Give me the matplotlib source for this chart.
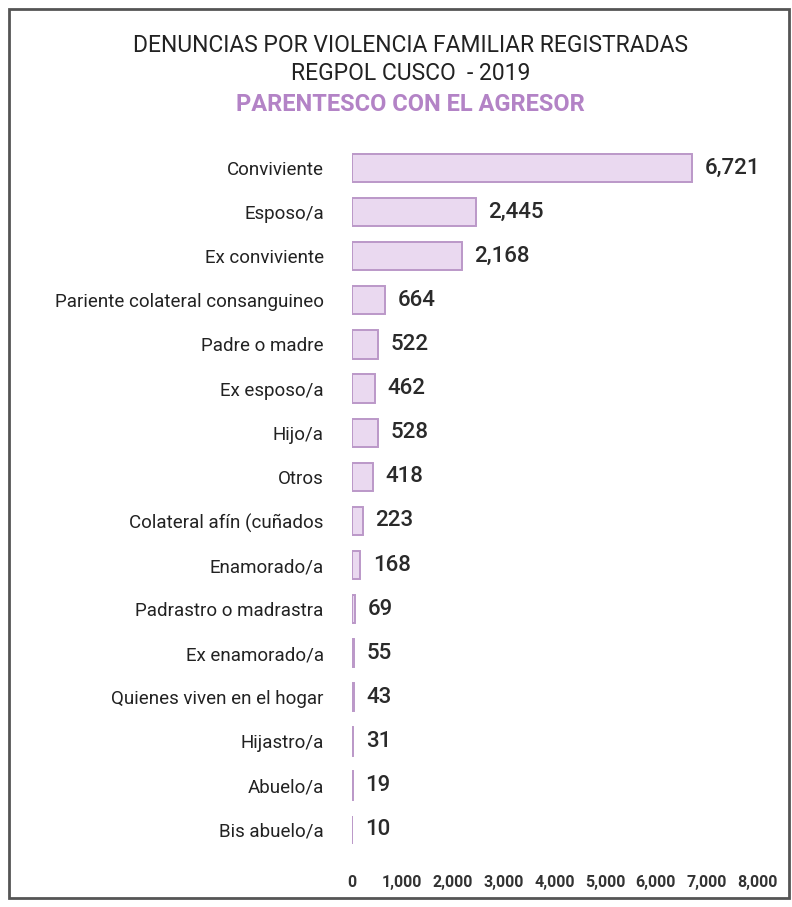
import matplotlib.pyplot as plt
from matplotlib.patches import Rectangle

categorias = ['Conviviente', 'Esposo/a', 'Ex conviviente',
              'Pariente colateral consanguineo', 'Padre o madre', 'Ex esposo/a',
              'Hijo/a', 'Otros', 'Colateral afín (cuñados', 'Enamorado/a',
              'Padrastro o madrastra', 'Ex enamorado/a',
              'Quienes viven en el hogar', 'Hijastro/a', 'Abuelo/a',
              'Bis abuelo/a']
denuncias = [6721, 2445, 2168, 664, 522, 462, 528, 418, 223, 168,
             69, 55, 43, 31, 19, 10]
ticks = [0, 1000, 2000, 3000, 4000, 5000, 6000, 7000, 8000]
tick_labels = ['0', '1,000', '2,000', '3,000', '4,000', '5,000', '6,000',
               '7,000', '8,000']

plt.rcParams['font.family'] = ['Roboto', 'DejaVu Sans']

fig = plt.figure(figsize=(7.92, 9.07), dpi=100)
ax = fig.add_axes([0.444, 0.061, 0.512, 0.778])

y = list(range(len(categorias)))
bars = ax.barh(y, denuncias, height=0.64, color='#ead9f0',
               edgecolor='#bb98c8', linewidth=1.4)
ax.bar_label(bars, labels=[f'{v:,}' for v in denuncias], padding=9,
             fontsize=16, fontweight='medium', color='#2a2a2a')

ax.set_ylim(len(categorias) - 0.5, -0.5)
ax.set_xlim(0, 8000)
ax.set_yticks(y)
ax.set_yticklabels(categorias, fontsize=13.5, color='#222222')
ax.set_xticks(ticks)
ax.set_xticklabels(tick_labels, fontsize=11.5, fontweight='bold',
                   color='#333333')
ax.tick_params(axis='both', length=0)
ax.tick_params(axis='y', pad=20)
ax.tick_params(axis='x', pad=17)
for s in ax.spines.values():
    s.set_visible(False)

fig.text(0.518, 0.950, 'DENUNCIAS POR VIOLENCIA FAMILIAR REGISTRADAS',
         ha='center', va='center', fontsize=16.5, color='#222222')
fig.text(0.518, 0.919, 'REGPOL CUSCO  - 2019',
         ha='center', va='center', fontsize=16.5, color='#222222')
fig.text(0.518, 0.885, 'PARENTESCO CON EL AGRESOR',
         ha='center', va='center', fontsize=17, fontweight='bold',
         color='#b383c6')

fig.patches.append(Rectangle((0.011, 0.010), 0.985, 0.980,
                             transform=fig.transFigure, fill=False,
                             edgecolor='#555555', linewidth=2))

fig.savefig('out.png', dpi=100)
